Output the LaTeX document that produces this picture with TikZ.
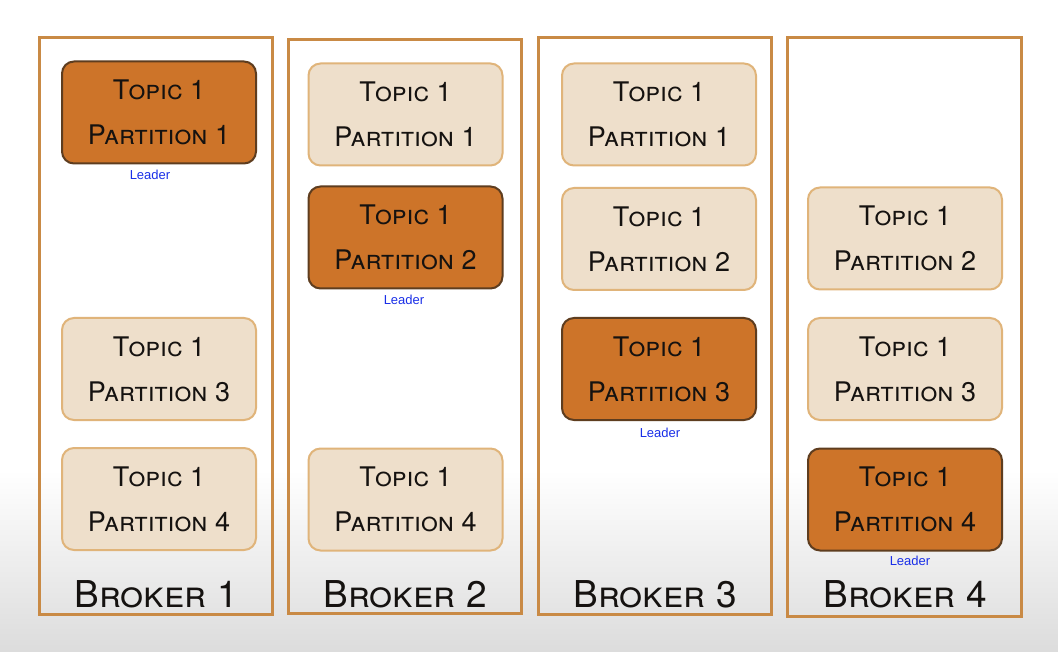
\documentclass[tikz,border=0pt]{standalone}
\usepackage{fontspec}
\setmainfont{TeX Gyre Heros}
\newfontfamily\leaderfont{Liberation Sans}
\definecolor{bg}{HTML}{FFFFFF}
\definecolor{bggrey}{HTML}{DCDCDC}
\definecolor{brokerline}{HTML}{C98A45}
\definecolor{leadfill}{HTML}{CD7429}
\definecolor{leadline}{HTML}{5E3D1F}
\definecolor{repfill}{HTML}{EEDFCB}
\definecolor{repline}{HTML}{E0B47A}
\definecolor{leadtext}{HTML}{1A2FE8}
\definecolor{ink}{HTML}{151210}
\tikzset{
  x=1pt,y=-1pt,
  brokerbox/.style={draw=brokerline,line width=3pt},
  partbox/.style={rounded corners=12pt,line width=2pt,minimum width=194pt,minimum height=102pt,
    inner sep=0pt,text=ink,align=center,font=\fontsize{27}{45}\selectfont\scshape},
  leaderpart/.style={partbox,fill=leadfill,draw=leadline},
  replica/.style={partbox,fill=repfill,draw=repline},
  leaderlabel/.style={text=leadtext,font=\leaderfont\fontsize{13}{15}\selectfont,inner sep=0pt},
  brokerlabel/.style={text=ink,font=\fontsize{37}{40}\selectfont\scshape,inner sep=0pt}
}
\begin{document}
\begin{tikzpicture}
\useasboundingbox (0,0) rectangle (1058,652);
\fill[bg] (0,0) rectangle (1058,470);
\shade[top color=bg,bottom color=bggrey] (0,470) rectangle (1058,652);
% brokers
\draw[brokerbox] (39,38) rectangle (272,614);
\draw[brokerbox] (288,40) rectangle (521,613);
\draw[brokerbox] (538,38) rectangle (771,614);
\draw[brokerbox] (787,38) rectangle (1021,616);
% broker 1
\node[leaderpart] (b1p1) at (159,112.5) {Topic 1\\Partition 1};
\node[leaderlabel] (l1) at (150,175) {Leader};
\node[replica] (b1p3) at (159,369) {Topic 1\\Partition 3};
\node[replica] (b1p4) at (159,499) {Topic 1\\Partition 4};
\node[brokerlabel] (n1) at (156,594) {Broker 1};
% broker 2
\node[replica] (b2p1) at (405.5,114.5) {Topic 1\\Partition 1};
\node[leaderpart] (b2p2) at (405.5,237.5) {Topic 1\\Partition 2};
\node[leaderlabel] (l2) at (404,300) {Leader};
\node[replica] (b2p4) at (405.5,499.5) {Topic 1\\Partition 4};
\node[brokerlabel] (n2) at (405,594) {Broker 2};
% broker 3
\node[replica] (b3p1) at (659,114.5) {Topic 1\\Partition 1};
\node[replica] (b3p2) at (659,239) {Topic 1\\Partition 2};
\node[leaderpart] (b3p3) at (659,369) {Topic 1\\Partition 3};
\node[leaderlabel] (l3) at (660,433) {Leader};
\node[brokerlabel] (n3) at (655,594) {Broker 3};
% broker 4
\node[replica] (b4p2) at (905,238.5) {Topic 1\\Partition 2};
\node[replica] (b4p3) at (905,369) {Topic 1\\Partition 3};
\node[leaderpart] (b4p4) at (905,499.5) {Topic 1\\Partition 4};
\node[leaderlabel] (l4) at (910,561) {Leader};
\node[brokerlabel] (n4) at (905,594) {Broker 4};
\end{tikzpicture}
\end{document}
